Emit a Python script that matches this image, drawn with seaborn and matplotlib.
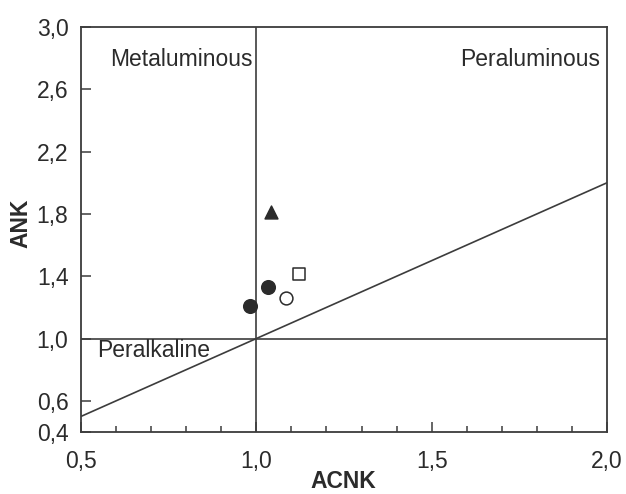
import matplotlib
matplotlib.use("Agg")
import matplotlib.pyplot as plt
import matplotlib.ticker as mticker
import seaborn as sns
import pandas as pd

# ---- data ----
acnk = [0.982, 1.034, 1.084, 1.122, 1.041]
ank = [1.211, 1.333, 1.258, 1.414, 1.81]
sample = ["A", "A", "B", "C", "D"]

boundary_x = [0.5, 2.0]
boundary_y = [0.5, 2.0]
vline_x = 1.0
hline_y = 1.0

xticks = [0.5, 1.0, 1.5, 2.0]
yticks = [0.4, 0.6, 1.0, 1.4, 1.8, 2.2, 2.6, 3.0]

field_labels = ["Metaluminous", "Peraluminous", "Peralkaline"]

sns.set_theme(style="ticks")
plt.rcParams["font.family"] = ["Liberation Sans", "DejaVu Sans"]

ink = "#2b2b2b"
linec = "#3c3c3c"
fs = 16.5

fig = plt.figure(figsize=(6.26, 4.94), dpi=100)
ax = fig.add_axes([81 / 626, 1 - 432 / 494, (607 - 81) / 626, (432 - 27) / 494])

df = pd.DataFrame({"ACNK": acnk, "ANK": ank, "sample": sample})

# boundary lines
sns.lineplot(x=boundary_x, y=boundary_y, ax=ax, color=linec, linewidth=1.2, zorder=2)
ax.axvline(vline_x, color=linec, linewidth=1.2, zorder=2)
ax.axhline(hline_y, color=linec, linewidth=1.2, zorder=2)

styles = {
    "A": dict(marker="o", facecolor=ink, edgecolor=ink, s=95),
    "B": dict(marker="o", facecolor="white", edgecolor=ink, s=85),
    "C": dict(marker="s", facecolor="white", edgecolor=ink, s=85),
    "D": dict(marker="^", facecolor=ink, edgecolor=ink, s=85),
}
for key, st in styles.items():
    sub = df[df["sample"] == key]
    sns.scatterplot(data=sub, x="ACNK", y="ANK", ax=ax, marker=st["marker"],
                    facecolor=st["facecolor"], edgecolor=st["edgecolor"],
                    s=st["s"], linewidth=1.1, zorder=3, legend=False)

ax.set_xlim(0.5, 2.0)
ax.set_ylim(0.4, 3.0)
ax.set_xticks(xticks)
ax.set_yticks(yticks)
ax.xaxis.set_minor_locator(mticker.MultipleLocator(0.1))
fmt = mticker.FuncFormatter(lambda v, p: f"{v:.1f}".replace(".", ","))
ax.xaxis.set_major_formatter(fmt)
ax.yaxis.set_major_formatter(fmt)

ax.tick_params(axis="both", which="major", direction="in", length=7.5, width=1.1,
               color=linec, labelsize=fs, labelcolor=ink)
ax.tick_params(axis="x", which="major", pad=13)
ax.tick_params(axis="y", which="major", pad=9)
ax.tick_params(axis="x", which="minor", direction="in", length=4.3, width=1.1, color=linec)
ax.tick_params(top=False, right=False)

for sp in ax.spines.values():
    sp.set_color(linec)
    sp.set_linewidth(1.3)

ax.set_xlabel("ACNK", fontsize=fs, fontweight="bold", color=ink)
ax.set_ylabel("ANK", fontsize=fs, fontweight="bold", color=ink)
ax.xaxis.set_label_coords(0.498, -0.094)
ax.yaxis.set_label_coords(-0.093, 0.516)

ax.text(0.583, 2.79, field_labels[0], fontsize=fs, color=ink, ha="left", va="center")
ax.text(1.98, 2.79, field_labels[1], fontsize=fs, color=ink, ha="right", va="center")
ax.text(0.545, 0.925, field_labels[2], fontsize=fs, color=ink, ha="left", va="center")

fig.savefig("out.png", dpi=100, facecolor="white")
